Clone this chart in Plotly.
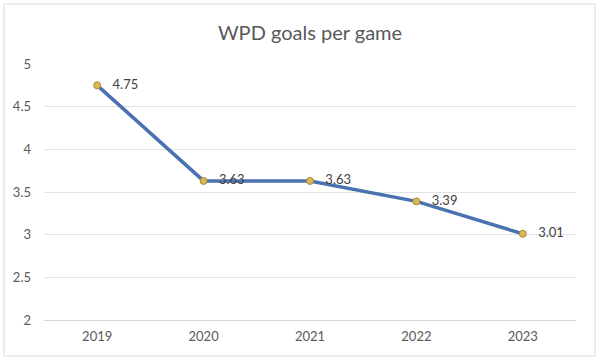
import plotly.graph_objects as go

years = ["2019", "2020", "2021", "2022", "2023"]
goals = [4.75, 3.63, 3.63, 3.39, 3.01]
labels = ["4.75", "3.63", "3.63", "3.39", "3.01"]
y_ticks = [2, 2.5, 3, 3.5, 4, 4.5, 5]

W, H = 600, 362
L, R, T, B = 44, 24, 64, 42
pw, ph = W - L - R, H - T - B

def px_x(x):
    return (x - L) / pw

def px_y(y):
    return (H - B - y) / ph

fig = go.Figure()
fig.add_trace(go.Scatter(
    x=years, y=goals, mode="lines+markers+text",
    text=["\u00a0\u00a0\u00a0" + s for s in labels], textposition="middle right",
    textfont=dict(size=13, color="#404040", family="Lato, Open Sans, sans-serif"),
    line=dict(color="#4a72b0", width=3.5),
    marker=dict(size=7, color="#d9b95a", line=dict(color="#a8892e", width=1)),
    cliponaxis=False,
))

fig.update_layout(
    width=W, height=H,
    margin=dict(l=L, r=R, t=T, b=B),
    paper_bgcolor="white", plot_bgcolor="white",
    showlegend=False,
    title=dict(text="WPD goals per game", x=0.5, xref="paper", xanchor="center",
               y=1 - 33 / H, yanchor="middle",
               font=dict(size=20, color="#595959", family="Lato, Open Sans, sans-serif")),
    font=dict(family="Lato, Open Sans, sans-serif", color="#595959", size=12),
    xaxis=dict(type="category", range=[-0.5, 4.5], showgrid=False, zeroline=False,
               showline=True, linecolor="#d9d9d9", ticks="", ticklabelstandoff=4,
               tickfont=dict(size=13, color="#595959")),
    yaxis=dict(range=[2, 5], tickvals=y_ticks, ticktext=[f"{v:g}" for v in y_ticks],
               showgrid=True, gridcolor="#e3e3e3", zeroline=False, showline=False,
               ticks="", ticklabelstandoff=12, tickfont=dict(size=13, color="#595959")),
    shapes=[dict(type="rect", xref="paper", yref="paper",
                 x0=px_x(4), x1=px_x(595), y0=px_y(4), y1=px_y(356),
                 line=dict(color="#d9d9d9", width=1), fillcolor="rgba(0,0,0,0)", layer="below")],
)

fig.write_html("out.html", config={"displayModeBar": False},
               post_script="document.body.style.margin='0';")
